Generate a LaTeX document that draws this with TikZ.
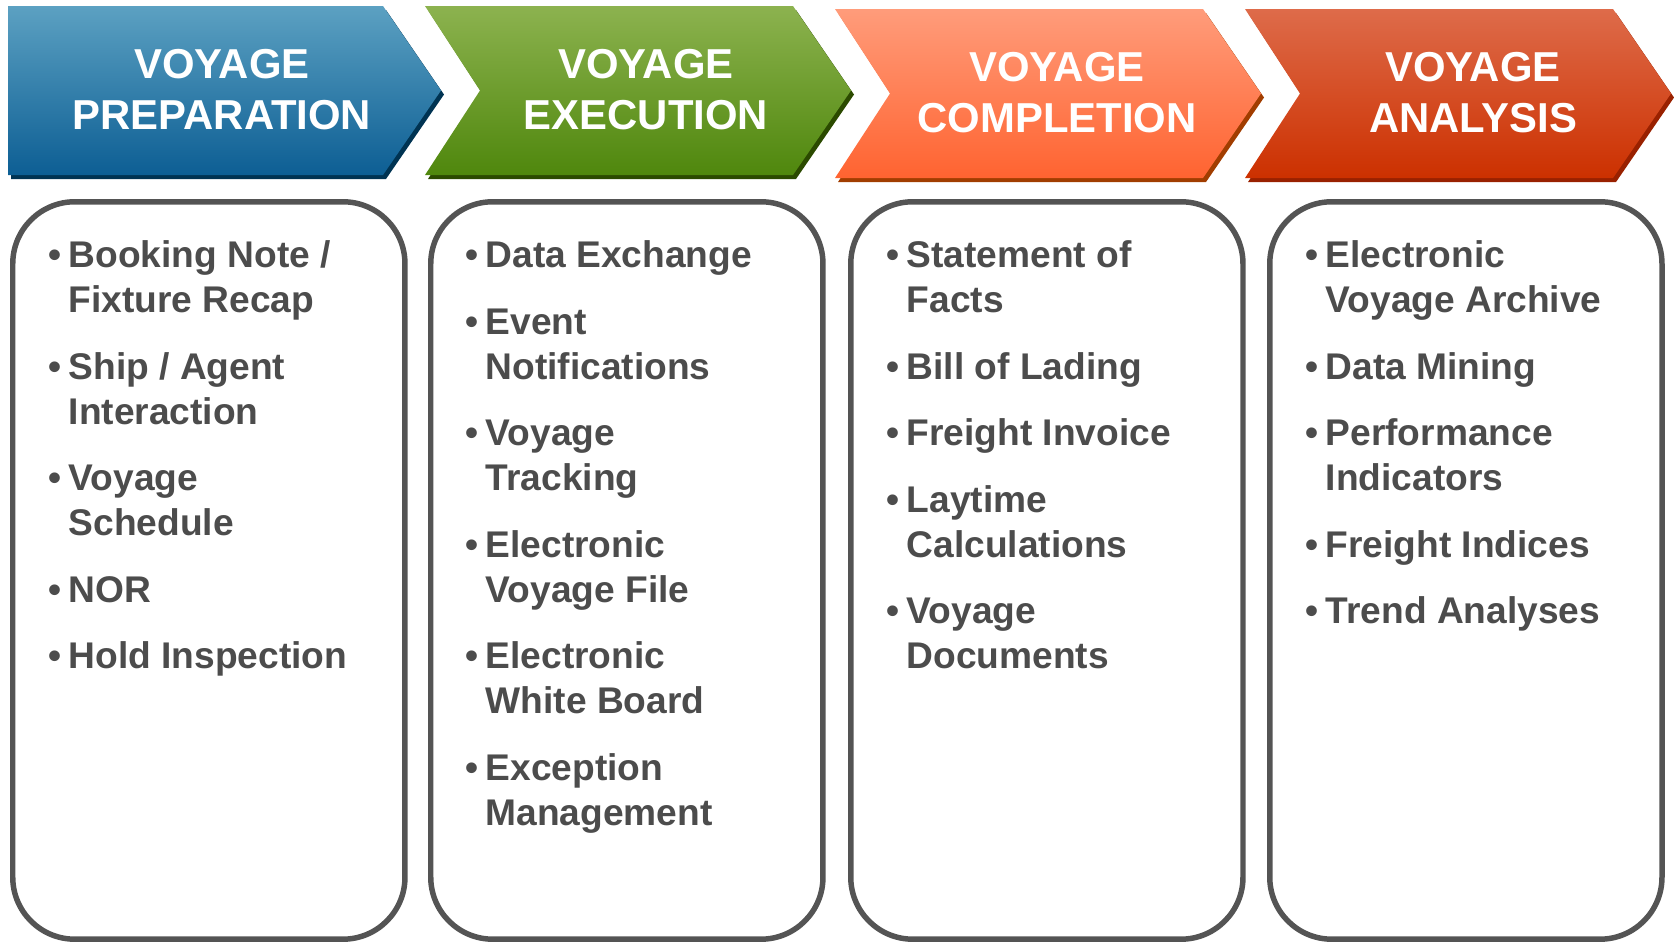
\documentclass[tikz,border=0pt]{standalone}
\usepackage{fontspec}
\setmainfont{Liberation Sans}
\usepackage{tikz}
\usetikzlibrary{positioning}

\tikzset{
  hdtext/.style={text=white,align=center,inner sep=0pt,font=\fontsize{11.9pt}{14.5pt}\selectfont\bfseries},
  panel/.style={draw=cbox,line width=1.56pt,rounded corners=0.62cm,minimum width=3.92cm,minimum height=7.37cm,inner sep=0pt,anchor=north west},
  bul/.style={text=ctxt,align=left,inner sep=0pt,anchor=north west,font=\fontsize{10.56pt}{12.76pt}\selectfont\bfseries},
}
\newcommand{\itm}{\llap{\textbullet\hspace{0.07cm}}\strut}

\begin{document}
\begin{tikzpicture}[x=0.01cm,y=-0.01cm]
\definecolor{ct1}{rgb}{0.36,0.63,0.76}
\definecolor{cb1}{rgb}{0.05,0.37,0.58}
\definecolor{cs1}{rgb}{0.0,0.2,0.32}
\definecolor{ct2}{rgb}{0.55,0.70,0.31}
\definecolor{cb2}{rgb}{0.31,0.53,0.05}
\definecolor{cs2}{rgb}{0.17,0.29,0.0}
\definecolor{ct3}{rgb}{1.0,0.61,0.48}
\definecolor{cb3}{rgb}{1.0,0.39,0.19}
\definecolor{cs3}{rgb}{0.63,0.24,0.0}
\definecolor{ct4}{rgb}{0.87,0.42,0.29}
\definecolor{cb4}{rgb}{0.80,0.19,0.0}
\definecolor{cs4}{rgb}{0.6,0.13,0.0}
\definecolor{cbox}{rgb}{0.33,0.33,0.33}
\definecolor{ctxt}{rgb}{0.30,0.30,0.30}
\useasboundingbox (0,0) rectangle (1674,941);
%
\fill[cs1] (11,10) -- (386,10) -- (444,94.5) -- (386,179) -- (11,179) -- cycle;
\shade[top color=ct1,bottom color=cb1] (8,6) -- (383,6) -- (441,90.5) -- (383,175) -- (8,175) -- cycle;
\fill[cs2] (428,10) -- (796,10) -- (854,94.5) -- (796,179) -- (428,179) -- (483,94.5) -- cycle;
\shade[top color=ct2,bottom color=cb2] (425,6) -- (793,6) -- (851,90.5) -- (793,175) -- (425,175) -- (480,90.5) -- cycle;
\fill[cs3] (838,13) -- (1206,13) -- (1264,97.5) -- (1206,182) -- (838,182) -- (893,97.5) -- cycle;
\shade[top color=ct3,bottom color=cb3] (835,9) -- (1203,9) -- (1261,93.5) -- (1203,178) -- (835,178) -- (890,93.5) -- cycle;
\fill[cs4] (1248,13) -- (1616,13) -- (1674,97.5) -- (1616,182) -- (1248,182) -- (1303,97.5) -- cycle;
\shade[top color=ct4,bottom color=cb4] (1245,9) -- (1613,9) -- (1671,93.5) -- (1613,178) -- (1245,178) -- (1300,93.5) -- cycle;
%
\node[hdtext] (h1) at (222,89.5) {VOYAGE\\PREPARATION};
\node[hdtext] (h2) at (646,89.5) {VOYAGE\\EXECUTION};
\node[hdtext] (h3) at (1057,92.5) {VOYAGE\\COMPLETION};
\node[hdtext] (h4) at (1473,92.5) {VOYAGE\\ANALYSIS};
%
\node[panel] (b1) at (10,199) {};
\node[panel] (b2) at (428,199) {};
\node[panel] (b3) at (848,199) {};
\node[panel] (b4) at (1267,199) {};
%
\node[bul] (b1i1) at (68,235.6) {\itm Booking Note /\\Fixture Recap\strut};
\node[bul,below=0.203cm of b1i1.south west,anchor=north west] (b1i2) {\itm Ship / Agent\\Interaction\strut};
\node[bul,below=0.203cm of b1i2.south west,anchor=north west] (b1i3) {\itm Voyage\\Schedule\strut};
\node[bul,below=0.203cm of b1i3.south west,anchor=north west] (b1i4) {\itm NOR\strut};
\node[bul,below=0.203cm of b1i4.south west,anchor=north west] (b1i5) {\itm Hold Inspection\strut};
%
\node[bul] (b2i1) at (485,235.6) {\itm Data Exchange\strut};
\node[bul,below=0.203cm of b2i1.south west,anchor=north west] (b2i2) {\itm Event\\Notifications\strut};
\node[bul,below=0.203cm of b2i2.south west,anchor=north west] (b2i3) {\itm Voyage\\Tracking\strut};
\node[bul,below=0.203cm of b2i3.south west,anchor=north west] (b2i4) {\itm Electronic\\Voyage File\strut};
\node[bul,below=0.203cm of b2i4.south west,anchor=north west] (b2i5) {\itm Electronic\\White Board\strut};
\node[bul,below=0.203cm of b2i5.south west,anchor=north west] (b2i6) {\itm Exception\\Management\strut};
%
\node[bul] (b3i1) at (906,235.6) {\itm Statement of\\Facts\strut};
\node[bul,below=0.203cm of b3i1.south west,anchor=north west] (b3i2) {\itm Bill of Lading\strut};
\node[bul,below=0.203cm of b3i2.south west,anchor=north west] (b3i3) {\itm Freight Invoice\strut};
\node[bul,below=0.203cm of b3i3.south west,anchor=north west] (b3i4) {\itm Laytime\\Calculations\strut};
\node[bul,below=0.203cm of b3i4.south west,anchor=north west] (b3i5) {\itm Voyage\\Documents\strut};
%
\node[bul] (b4i1) at (1325,235.6) {\itm Electronic\\Voyage Archive\strut};
\node[bul,below=0.203cm of b4i1.south west,anchor=north west] (b4i2) {\itm Data Mining\strut};
\node[bul,below=0.203cm of b4i2.south west,anchor=north west] (b4i3) {\itm Performance\\Indicators\strut};
\node[bul,below=0.203cm of b4i3.south west,anchor=north west] (b4i4) {\itm Freight Indices\strut};
\node[bul,below=0.203cm of b4i4.south west,anchor=north west] (b4i5) {\itm Trend Analyses\strut};
%
\end{tikzpicture}
\end{document}
